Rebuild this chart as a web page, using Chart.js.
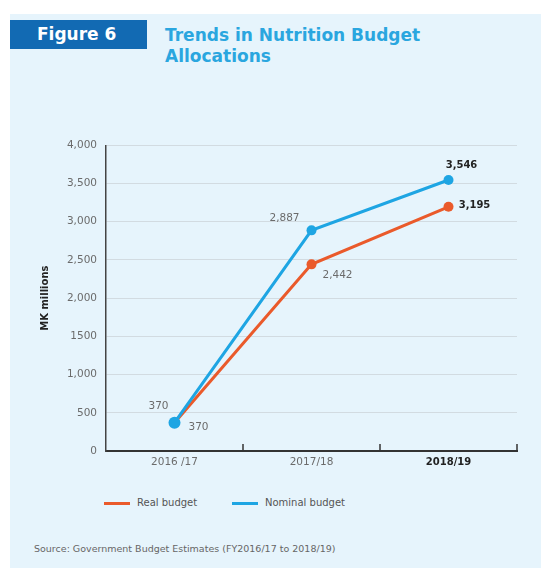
<!DOCTYPE html>
<html>
<head>
<meta charset="utf-8">
<script src="https://cdn.jsdelivr.net/npm/chart.js@4"></script>
<style>
  body { margin: 0; background: #fff; font-family: "DejaVu Sans", sans-serif; }
  .panel { position: absolute; left: 10px; top: 14px; width: 531px; height: 554px; background: #e6f4fc; }
  .fig-tag { position: absolute; left: 10px; top: 20px; width: 137px; height: 29px; background: #126ab3;
             color: #fff; font-weight: bold; font-size: 17px; line-height: 29px; text-indent: 27px; }
  .title { position: absolute; left: 165px; top: 25px; color: #2aa6df; font-weight: bold; font-size: 17px; line-height: 21px; }
  .chart-box { position: absolute; left: 30px; top: 130px; width: 500px; height: 345px; }
  .legend { position: absolute; top: 497px; font-size: 10px; color: #555; }
  .legend i { display: inline-block; width: 26px; height: 3px; vertical-align: middle; margin-right: 7px; }
  .source { position: absolute; left: 34px; top: 543px; font-size: 9.5px; color: #666; }
</style>
</head>
<body>
<div class="panel"></div>
<div class="fig-tag">Figure 6</div>
<div class="title">Trends in Nutrition Budget<br>Allocations</div>
<div class="chart-box"><canvas id="budgetChart"></canvas></div>
<div class="legend" style="left:104px"><i style="background:#ea5a2b"></i>Real budget</div>
<div class="legend" style="left:232px"><i style="background:#1ea5e3"></i>Nominal budget</div>
<div class="source">Source: Government Budget Estimates (FY2016/17 to 2018/19)</div>

<script>
// Nutrition budget, MK millions
const years = ['2016 /17', '2017/18', '2018/19'];
const realBudget = [370, 2442, 3195];
const nominalBudget = [370, 2887, 3546];
const yTicks = [0, 500, 1000, 1500, 2000, 2500, 3000, 3500, 4000];
const yTickText = ['0', '500', '1,000', '1500', '2,000', '2,500', '3,000', '3,500', '4,000'];

const ORANGE = '#ea5a2b';
const BLUE = '#1ea5e3';
const FONT = '"DejaVu Sans", sans-serif';

// where each value label sits relative to its point
const labelOffsets = [
    [[24, 5], [26, 11], [26, -1]],     // real
    [[-16, -16], [-27, -12], [13, -15]] // nominal
];

Chart.defaults.font.family = FONT;

const fmt = v => v >= 1000 ? v.toLocaleString('en-US') : String(v);

// value labels next to the markers; last category in bold
const valueLabels = {
    id: 'valueLabels',
    afterDatasetsDraw(chart) {
        const ctx = chart.ctx;
        ctx.save();
        ctx.textAlign = 'center';
        ctx.textBaseline = 'middle';
        chart.data.datasets.forEach((ds, di) => {
            chart.getDatasetMeta(di).data.forEach((pt, i) => {
                const last = i === ds.data.length - 1;
                ctx.font = last ? 'bold 10px ' + FONT : '10.5px ' + FONT;
                ctx.fillStyle = last ? '#222' : '#6b6b6b';
                const off = labelOffsets[di][i];
                ctx.fillText(fmt(ds.data[i]), pt.x + off[0], pt.y + off[1]);
            });
        });
        ctx.restore();
    }
};

// short upward ticks on the x axis at category boundaries
const xBoundaryTicks = {
    id: 'xBoundaryTicks',
    afterDraw(chart) {
        const x = chart.scales.x;
        const ctx = chart.ctx;
        const n = chart.data.labels.length;
        const marks = [];
        for (let i = 0; i < n - 1; i++) {
            marks.push((x.getPixelForValue(i) + x.getPixelForValue(i + 1)) / 2);
        }
        marks.push(x.right);
        ctx.save();
        ctx.strokeStyle = '#333';
        ctx.lineWidth = 1.5;
        marks.forEach(px => {
            ctx.beginPath();
            ctx.moveTo(px, x.top);
            ctx.lineTo(px, x.top - 7);
            ctx.stroke();
        });
        ctx.restore();
    }
};

new Chart(document.getElementById('budgetChart'), {
    type: 'line',
    data: {
        labels: years,
        datasets: [
            {
                label: 'Real budget',
                data: realBudget,
                borderColor: ORANGE,
                backgroundColor: ORANGE,
                borderWidth: 3,
                pointRadius: 5,
                pointBorderWidth: 0,
                order: 1
            },
            {
                label: 'Nominal budget',
                data: nominalBudget,
                borderColor: BLUE,
                backgroundColor: BLUE,
                borderWidth: 3,
                pointRadius: [6, 5, 5],
                pointBorderWidth: 0,
                order: 0
            }
        ]
    },
    options: {
        responsive: true,
        maintainAspectRatio: false,
        animation: false,
        layout: { padding: { top: 4, right: 13, left: 0, bottom: 0 } },
        scales: {
            x: {
                offset: true,
                grid: { display: false, drawTicks: false },
                border: { display: true, color: '#333', width: 2 },
                ticks: {
                    padding: 5,
                    color: ctx => ctx.index === 2 ? '#222' : '#6b6b6b',
                    font: ctx => ({ size: ctx.index === 2 ? 10 : 10.5, weight: ctx.index === 2 ? 'bold' : 'normal' })
                },
                afterFit: s => { s.height = 24; }
            },
            y: {
                min: 0,
                max: 4000,
                afterBuildTicks: s => { s.ticks = yTicks.map(v => ({ value: v })); },
                grid: { color: '#d2dbe1', lineWidth: 1, drawTicks: false },
                border: { display: true, color: '#444', width: 1.5 },
                ticks: {
                    padding: 9,
                    color: '#6b6b6b',
                    font: { size: 10.5 },
                    callback: (v) => yTickText[yTicks.indexOf(v)]
                },
                title: {
                    display: true,
                    text: 'MK millions',
                    color: '#222',
                    font: { size: 10, weight: 'bold' },
                    padding: { top: 9, bottom: 0 }
                },
                afterFit: s => { s.width = 76; }
            }
        },
        plugins: {
            legend: { display: false },
            tooltip: { enabled: false }
        }
    },
    plugins: [valueLabels, xBoundaryTicks]
});
</script>
</body>
</html>
